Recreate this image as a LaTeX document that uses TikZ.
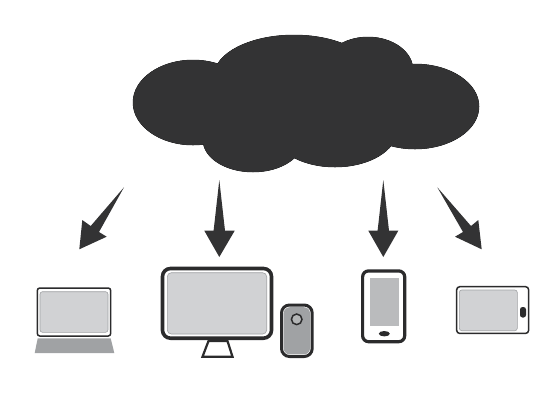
\documentclass[tikz,border=0pt]{standalone}
\definecolor{cloudc}{HTML}{333334}
\definecolor{linec}{HTML}{2B2B2C}
\definecolor{screenc}{HTML}{D1D2D4}
\definecolor{greyc}{HTML}{A0A2A4}
\definecolor{phonec}{HTML}{BABBBD}
\tikzset{
  cloudpart/.style={fill=cloudc,draw=black,line width=.5pt},
  cloudfill/.style={fill=cloudc},
  arrowc/.style={fill=cloudc,draw=none},
  body/.style={draw=linec,fill=white,rounded corners=#1},
  body/.default=3pt,
  scr/.style={fill=screenc,draw=greyc,line width=.6pt,rounded corners=2.5pt},
}
\begin{document}
\begin{tikzpicture}[x=1pt,y=-1pt]
\useasboundingbox (0,0) rectangle (559,400);
% cloud
\foreach \c/\rx/\ry in {(193,102.5)/60/42.5,(415,106.5)/64/42.5,(294,76)/80/41,(368,70)/45/33,(253,140)/50/32,(335,130)/62/37}
  \path[cloudpart] \c ellipse [x radius=\rx pt,y radius=\ry pt];
\foreach \c/\rx/\ry in {(193,102.5)/60/42.5,(415,106.5)/64/42.5,(294,76)/80/41,(368,70)/45/33,(253,140)/50/32,(335,130)/62/37}
  \path[cloudfill] \c ellipse [x radius=\rx pt,y radius=\ry pt];
% arrows
\coordinate (t1) at (124,187.3);
\fill[arrowc] (t1) -- (99,232) -- (106.7,236.7) -- (79.3,249.3) -- (82.3,220) -- (90.7,226) -- cycle;
\coordinate (t2) at (219.3,180);
\fill[arrowc] (t2) -- (225,230.7) -- (234.7,230.7) -- (219.3,257) -- (204.3,230.7) -- (213.6,230.7) -- cycle;
\coordinate (t3) at (383.3,180);
\fill[arrowc] (t3) -- (389,230.7) -- (398.3,230.7) -- (383.3,257) -- (368.3,230.7) -- (377.6,230.7) -- cycle;
\coordinate (t4) at (437.3,187.3);
\fill[arrowc] (t4) -- (463,232) -- (455,236.7) -- (481.7,249.3) -- (478.3,220) -- (471,226) -- cycle;
% laptop
\draw[body=2.5pt,line width=1.5pt] (37.3,288) rectangle (110.7,336);
\path[scr] (40,291.7) rectangle (108,332.3);
\fill[greyc] (37.7,338.3) -- (110.7,338.3) -- (114.3,353) -- (34.7,353) -- cycle;
% monitor
\draw[line width=2.2pt,linec,fill=white] (208.5,341) -- (227.5,341) -- (232.5,356.7) -- (202.5,356.7) -- cycle;
\draw[body=8pt,line width=3.6pt] (162.5,268.5) rectangle (271.5,338.2);
\path[scr,rounded corners=4pt] (167.3,272.7) rectangle (266.7,334);
% speaker
\draw[draw=linec,fill=white,line width=3pt,rounded corners=8pt] (281.5,305) rectangle (312.2,356.5);
\path[fill=greyc,draw=none,rounded corners=6pt] (283.7,307.2) rectangle (310,354.3);
\draw[linec,fill=greyc!80!white,line width=1.5pt] (296.7,319.3) circle [radius=5.3pt];
% phone
\draw[body=6pt,line width=3.2pt] (362.6,270.9) rectangle (404.7,341.7);
\fill[phonec] (370,277.7) rectangle (399,326.3);
\fill[linec] (384.3,333.7) ellipse [x radius=5.5pt,y radius=2.7pt];
% tablet
\draw[body=3pt,line width=1.5pt] (456.7,286.7) rectangle (528.6,333.4);
\path[scr] (459.3,290) rectangle (517.3,330.7);
\fill[linec,rounded corners=2.5pt] (520,307) rectangle (526,317.5);
\end{tikzpicture}
\end{document}
